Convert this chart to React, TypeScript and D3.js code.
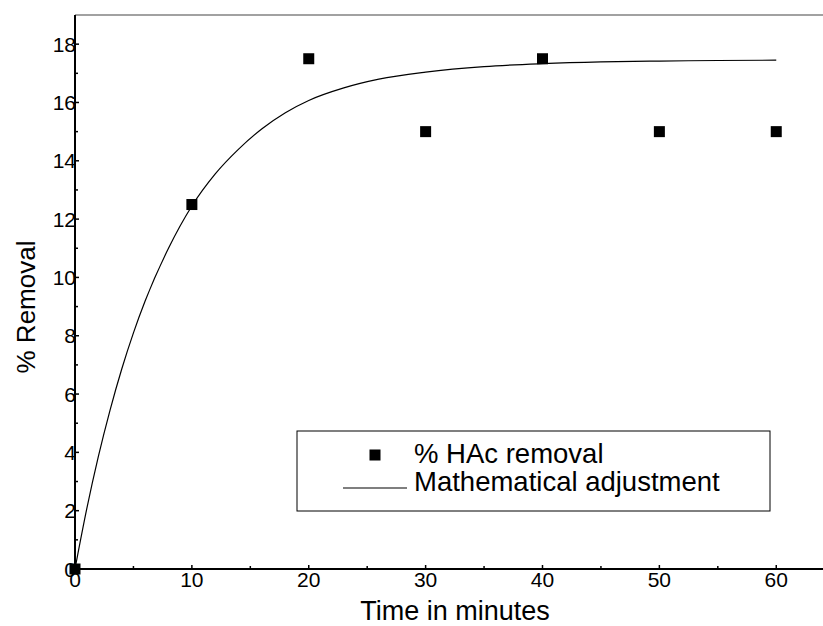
import React, { useEffect, useRef } from 'react';
import * as d3 from 'd3';

// measured points
const times = [0, 10, 20, 30, 40, 50, 60];
const removal = [0, 12.5, 17.5, 15, 17.5, 15, 15];

// fitted curve
const fitTimes = [0, 1, 2, 3, 4, 5, 6, 8, 10, 12, 14, 16, 18, 20, 23, 26, 30, 35, 40, 45, 50, 55, 60];
const fitValues = [0, 2.05, 3.86, 5.45, 6.86, 8.1, 9.19, 11.0, 12.45, 13.55, 14.4, 15.1, 15.65, 16.07, 16.5, 16.8, 17.04, 17.23, 17.33, 17.39, 17.42, 17.44, 17.45];

const yTicks = [0, 2, 4, 6, 8, 10, 12, 14, 16, 18];
const xTicks = [0, 10, 20, 30, 40, 50, 60];

const legendLabels = ['% HAc removal', 'Mathematical adjustment'];

const App = () => {
  const svgRef = useRef<SVGSVGElement>(null);

  useEffect(() => {
    const svg = d3.select(svgRef.current);
    svg.selectAll('*').remove();

    const width = 823;
    const height = 626;
    const left = 75;
    const top = 15;
    const bottom = 569;
    const font = '"Liberation Sans", Arial, sans-serif';

    svg.attr('width', width).attr('height', height);

    const x = d3.scaleLinear().domain([0, 64]).range([left, width]);
    const y = d3.scaleLinear().domain([0, 19]).range([bottom, top]);

    // top frame line
    svg.append('line')
      .attr('x1', left).attr('x2', width)
      .attr('y1', top).attr('y2', top)
      .attr('stroke', '#444').attr('stroke-width', 1.2);

    // minor ticks
    const yMinor = d3.range(1, 19, 2);
    const xMinor = d3.range(5, 64, 10);

    svg.selectAll('.ytick')
      .data(yTicks.concat(yMinor))
      .enter().append('line')
      .attr('x1', left).attr('x2', d => left + (d % 2 === 0 ? 4 : 3))
      .attr('y1', d => y(d)).attr('y2', d => y(d))
      .attr('stroke', '#000').attr('stroke-width', 1.5);

    svg.selectAll('.xtick')
      .data(xTicks.concat(xMinor))
      .enter().append('line')
      .attr('x1', d => x(d)).attr('x2', d => x(d))
      .attr('y1', bottom).attr('y2', d => bottom - (d % 10 === 0 ? 4 : 3))
      .attr('stroke', '#000').attr('stroke-width', 1.5);

    // axes lines
    svg.append('line')
      .attr('x1', left).attr('x2', left)
      .attr('y1', top).attr('y2', bottom + 1)
      .attr('stroke', '#000').attr('stroke-width', 2);
    svg.append('line')
      .attr('x1', left - 1).attr('x2', width)
      .attr('y1', bottom).attr('y2', bottom)
      .attr('stroke', '#000').attr('stroke-width', 2);

    // tick labels
    svg.selectAll('.ylabel')
      .data(yTicks)
      .enter().append('text')
      .attr('x', left + 1)
      .attr('y', d => y(d) + 7.5)
      .attr('text-anchor', 'end')
      .style('font-family', font)
      .style('font-size', '21px')
      .text(d => d);

    svg.selectAll('.xlabel')
      .data(xTicks)
      .enter().append('text')
      .attr('x', d => x(d))
      .attr('y', bottom + 18)
      .attr('text-anchor', 'middle')
      .style('font-family', font)
      .style('font-size', '21px')
      .text(d => d);

    // axis titles
    svg.append('text')
      .attr('x', 455)
      .attr('y', 620)
      .attr('text-anchor', 'middle')
      .style('font-family', font)
      .style('font-size', '27px')
      .text('Time in minutes');

    svg.append('text')
      .attr('transform', 'translate(35,307) rotate(-90)')
      .attr('text-anchor', 'middle')
      .style('font-family', font)
      .style('font-size', '26px')
      .text('% Removal');

    // fitted curve
    const line = d3.line<number>()
      .x((d, i) => x(fitTimes[i]))
      .y(d => y(d))
      .curve(d3.curveMonotoneX);

    svg.append('path')
      .datum(fitValues)
      .attr('d', line)
      .attr('fill', 'none')
      .attr('stroke', '#000')
      .attr('stroke-width', 1.2);

    // markers
    const m = 11;
    svg.selectAll('.pt')
      .data(removal)
      .enter().append('rect')
      .attr('x', (d, i) => x(times[i]) - m / 2)
      .attr('y', d => y(d) - m / 2)
      .attr('width', m).attr('height', m)
      .attr('fill', '#000');

    // legend
    const lg = svg.append('g');
    lg.append('rect')
      .attr('x', 297).attr('y', 431)
      .attr('width', 473).attr('height', 80)
      .attr('fill', '#fff')
      .attr('stroke', '#000').attr('stroke-width', 1);
    lg.append('rect')
      .attr('x', 375 - m / 2).attr('y', 455 - m / 2)
      .attr('width', m).attr('height', m)
      .attr('fill', '#000');
    lg.append('line')
      .attr('x1', 343).attr('x2', 407)
      .attr('y1', 488).attr('y2', 488)
      .attr('stroke', '#000').attr('stroke-width', 1.2);
    lg.selectAll('.lt')
      .data(legendLabels)
      .enter().append('text')
      .attr('x', 414)
      .attr('y', (d, i) => 463 + i * 28)
      .style('font-family', font)
      .style('font-size', '27.5px')
      .text(d => d);
  }, []);

  return (
    <div style={{ position: 'absolute', left: 0, top: 0 }}>
      <svg ref={svgRef}></svg>
    </div>
  );
};

export default App;
